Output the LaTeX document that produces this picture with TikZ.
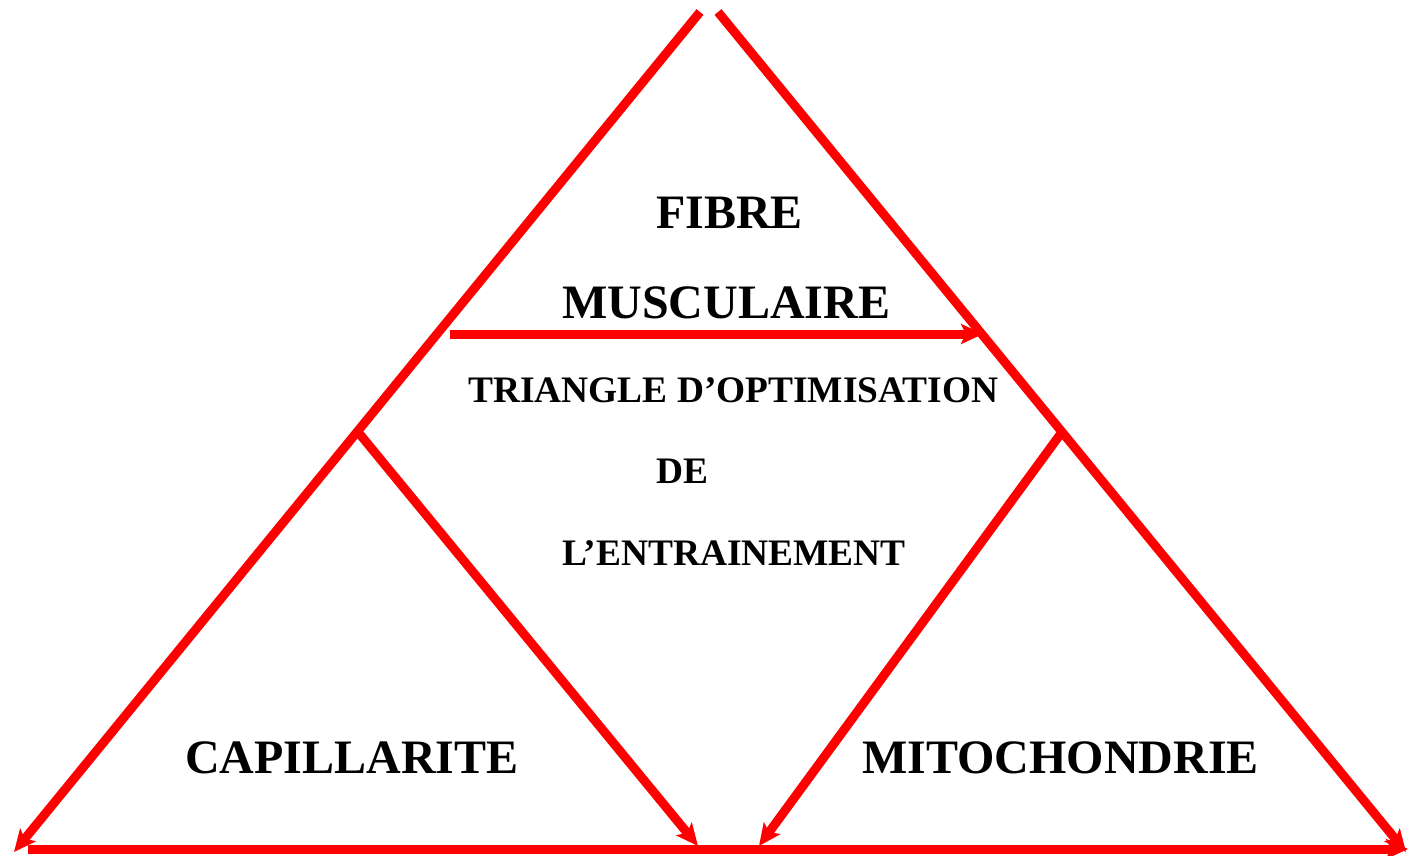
\documentclass[tikz,border=0pt]{standalone}
\usepackage{fontspec}
\setmainfont{Liberation Serif}
\usepackage{xcolor}
\usetikzlibrary{arrows.meta}
\definecolor{trired}{HTML}{FF0000}

\begin{document}
\begin{tikzpicture}[x=1pt, y=-1pt,
    redline/.style={draw=trired, line width=9pt},
    redarrow/.style={redline, -{Stealth[length=22pt, width=20pt, inset=5pt]}},
    bigtext/.style={anchor=base west, inner sep=0pt, font=\fontsize{48}{50}\selectfont\bfseries},
    smalltext/.style={anchor=base west, inner sep=0pt, font=\fontsize{37.4}{40}\selectfont\bfseries}]
  \useasboundingbox (0,0) rectangle (1417,856);
  % corners of the big triangle
  \coordinate (topL) at (700,12);
  \coordinate (topR) at (718,12);
  \coordinate (botL) at (14,852);
  \coordinate (botR) at (1406,852);
  \coordinate (baseS) at (28,849);
  \coordinate (baseE) at (1408,849);
  % inner points
  \coordinate (midL) at (358,432);
  \coordinate (midR) at (1062,432);
  \coordinate (barS) at (450,334);
  \coordinate (barE) at (983,334);
  \coordinate (inL) at (698,846);
  \coordinate (inR) at (759,846);

  \draw[redarrow] (topL) -- (botL);
  \draw[redarrow] (topR) -- (botR);
  \draw[redarrow] (baseS) -- (baseE);
  \draw[redarrow] (barS) -- (barE);
  \draw[redarrow] (midL) -- (inL);
  \draw[redarrow] (midR) -- (inR);

  \node[bigtext] (fibre) at (656,228) {FIBRE};
  \node[bigtext] (musc) at (562,318) {MUSCULAIRE};
  \node[smalltext] (tri) at (468,402) {TRIANGLE D’OPTIMISATION};
  \node[smalltext] (de) at (656,483) {DE};
  \node[smalltext] (entr) at (562,565) {L’ENTRAINEMENT};
  \node[bigtext] (capi) at (185,773) {CAPILLARITE};
  \node[bigtext] (mito) at (862,773) {MITOCHONDRIE};
\end{tikzpicture}
\end{document}
